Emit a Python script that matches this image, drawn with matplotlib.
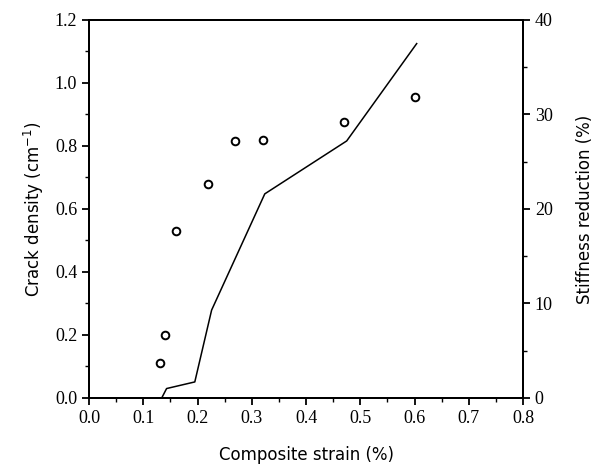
import matplotlib
matplotlib.use('Agg')
import matplotlib.pyplot as plt
from matplotlib.ticker import MultipleLocator

# Crack density (circles, left axis)
strain_pts = [0.13, 0.14, 0.16, 0.22, 0.27, 0.32, 0.47, 0.60]
crack_density = [0.11, 0.20, 0.53, 0.68, 0.815, 0.82, 0.875, 0.955]

# Stiffness reduction (line, right axis)
strain_line = [0.134, 0.143, 0.195, 0.226, 0.324, 0.475, 0.604]
stiffness_red = [0.0, 1.0, 1.7, 9.3, 21.6, 27.2, 37.5]

fig = plt.figure(figsize=(5.95, 4.7), dpi=100)
ax = fig.add_axes([0.1496, 0.1532, 0.7294, 0.8043])
ax2 = ax.twinx()

ax.plot(strain_pts, crack_density, 'o', mfc='white', mec='black', ms=5.5, mew=1.4, zorder=3)
ax2.plot(strain_line, stiffness_red, '-', color='black', lw=1.1)

ax.set_xlim(0, 0.8)
ax.set_ylim(0, 1.2)
ax2.set_ylim(0, 40)

ax.xaxis.set_minor_locator(MultipleLocator(0.05))
ax.yaxis.set_minor_locator(MultipleLocator(0.1))
ax2.yaxis.set_minor_locator(MultipleLocator(5))

serif = 'Liberation Serif'
ax.set_xticks([i / 10 for i in range(9)])
ax.set_xticklabels(['%.1f' % (i / 10) for i in range(9)], family=serif, fontsize=13)
ax.set_yticks([i / 5 for i in range(7)])
ax.set_yticklabels(['%.1f' % (i / 5) for i in range(7)], family=serif, fontsize=13)
ax2.set_yticks([0, 10, 20, 30, 40])
ax2.set_yticklabels(['0', '10', '20', '30', '40'], family=serif, fontsize=13)

ax.tick_params(which='major', direction='out', length=5, width=1.3, top=False)
ax.tick_params(which='minor', direction='out', length=3, width=1.0, top=False)
ax2.tick_params(which='major', direction='out', length=5, width=1.3)
ax2.tick_params(which='minor', direction='out', length=3, width=1.0)

for a in (ax, ax2):
    for s in a.spines.values():
        s.set_linewidth(1.4)

ax.set_xlabel('Composite strain (%)', fontsize=12, labelpad=14)
ax.set_ylabel('Crack density (cm$^{-1}$)', fontsize=12, labelpad=6)
ax2.set_ylabel('Stiffness reduction (%)', fontsize=12, labelpad=17)

plt.savefig('out.png', dpi=100)
